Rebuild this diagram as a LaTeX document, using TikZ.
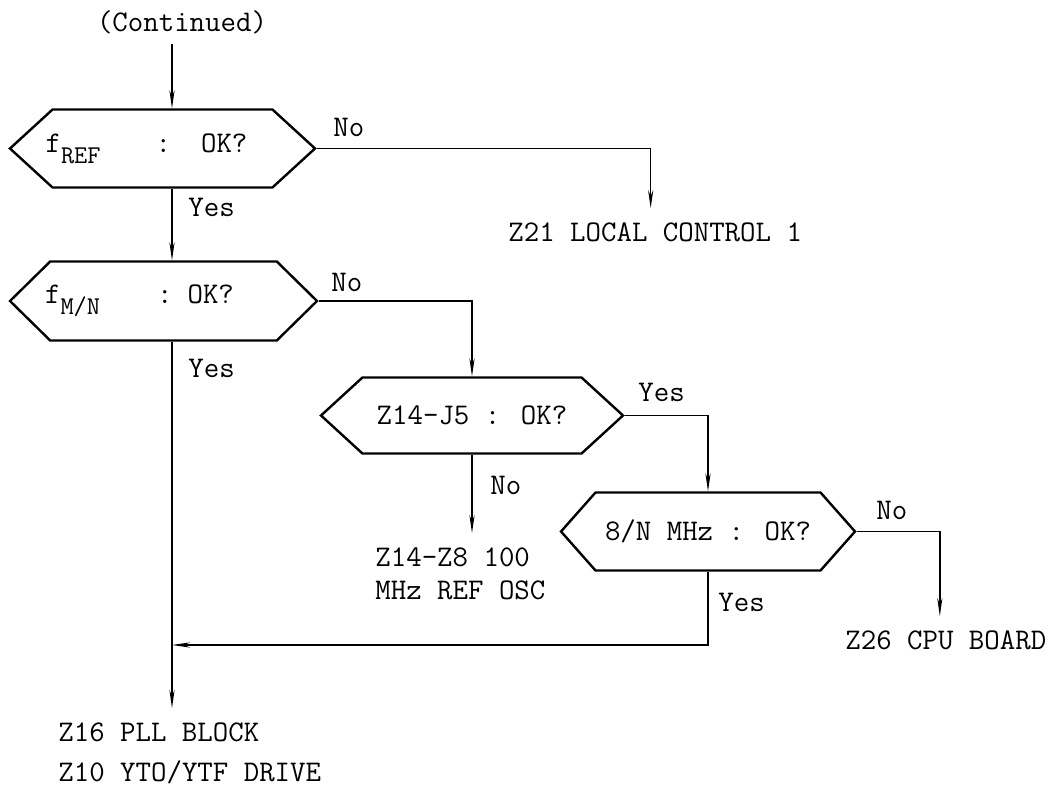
\documentclass[tikz,border=0pt]{standalone}
\usepackage{fontspec}
\usetikzlibrary{shapes.symbols, arrows.meta}

\newcommand{\chartfont}{\ttfamily\fontsize{15}{16.5}\selectfont}
\newcommand{\subtxt}[1]{\raisebox{-5.5pt}{\fontsize{12.8}{14}\selectfont #1}}
\newcommand{\nowidth}[1]{\hbox to 0pt{\hss#1\hss}}

\tikzset{
  hexbox/.style={signal, signal to=west and east, draw, line width=1.2pt,
    inner sep=0pt, font=\chartfont},
  flow/.style={line width=0.7pt, -{Stealth[length=9pt,width=2.6pt]}},
  tag/.style={inner sep=0pt, anchor=west, font=\chartfont},
  goal/.style={inner xsep=0pt, inner ysep=7pt, anchor=west, align=left, font=\chartfont},
}

\begin{document}
\begin{tikzpicture}[x=0.5pt, y=-0.5pt, >=Stealth]
  \useasboundingbox (0,0) rectangle (1059,786);
  \coordinate (trunk) at (172,0);
  \coordinate (join) at (172,645);
  % ---- decisions ----
  \node[font=\chartfont, inner sep=0pt] (cont) at (182,22) {(Continued)};
  \node[hexbox, minimum width=152.5pt, minimum height=39pt, signal pointer angle=85]
    (fref) at (162.5,148.5) {\nowidth{f\subtxt{REF}\hspace{27.5pt}:\hspace{15pt}OK?\hspace{16pt}}};
  \node[hexbox, minimum width=153.5pt, minimum height=39.5pt, signal pointer angle=89]
    (fmn) at (163.5,301) {\nowidth{f\subtxt{M/N}\hspace{28.5pt}:\hspace{7.5pt}OK?\hspace{24pt}}};
  \node[hexbox, minimum width=151pt, minimum height=38pt, signal pointer angle=85]
    (zj5) at (472,415.5) {Z14-J5 : OK?};
  \node[hexbox, minimum width=147pt, minimum height=39pt, signal pointer angle=97]
    (mhz) at (708,531.5) {8/N MHz : OK?};
  % ---- results ----
  \node[goal] (z21) at (508,232) {Z21 LOCAL CONTROL 1};
  \node[goal, execute at begin node=\setlength{\baselineskip}{16.5pt}] (zosc) at (375,573.5) {Z14-Z8 100\\MHz REF OSC};
  \node[goal] (z26) at (845,640) {Z26 CPU BOARD};
  \node[goal, execute at begin node=\setlength{\baselineskip}{20pt}] (zpll) at (58,753) {Z16 PLL BLOCK\\Z10 YTO/YTF DRIVE};
  % ---- answers ----
  \node[tag] (yes1) at (188,207) {Yes};
  \node[tag] (no1) at (333,127) {No};
  \node[tag] (no2) at (331,282) {No};
  \node[tag] (yes2) at (188,368) {Yes};
  \node[tag] (yes3) at (638,392) {Yes};
  \node[tag] (no3) at (490,485) {No};
  \node[tag] (no4) at (876,510) {No};
  \node[tag] (yes4) at (718,602) {Yes};
  % ---- flow lines ----
  \draw[flow, shorten <=5pt] (cont.south -| trunk) -- (fref.north -| trunk);
  \draw[flow] (fref.south -| trunk) -- (fmn.north -| trunk);
  \draw[flow] (fmn.south -| trunk) -- (zpll.north -| trunk);
  \draw[flow] (fref.east) -| ([xshift=-2.25pt]z21.north);
  \draw[flow] (fmn.east) -| (zj5.north);
  \draw[flow] (zj5.south) -- (zj5.south |- zosc.north);
  \draw[flow] (zj5.east) -| (mhz.north);
  \draw[flow] (mhz.east) -| ([xshift=-3pt]z26.north);
  \draw[flow] (mhz.south) |- (join);
\end{tikzpicture}
\end{document}
